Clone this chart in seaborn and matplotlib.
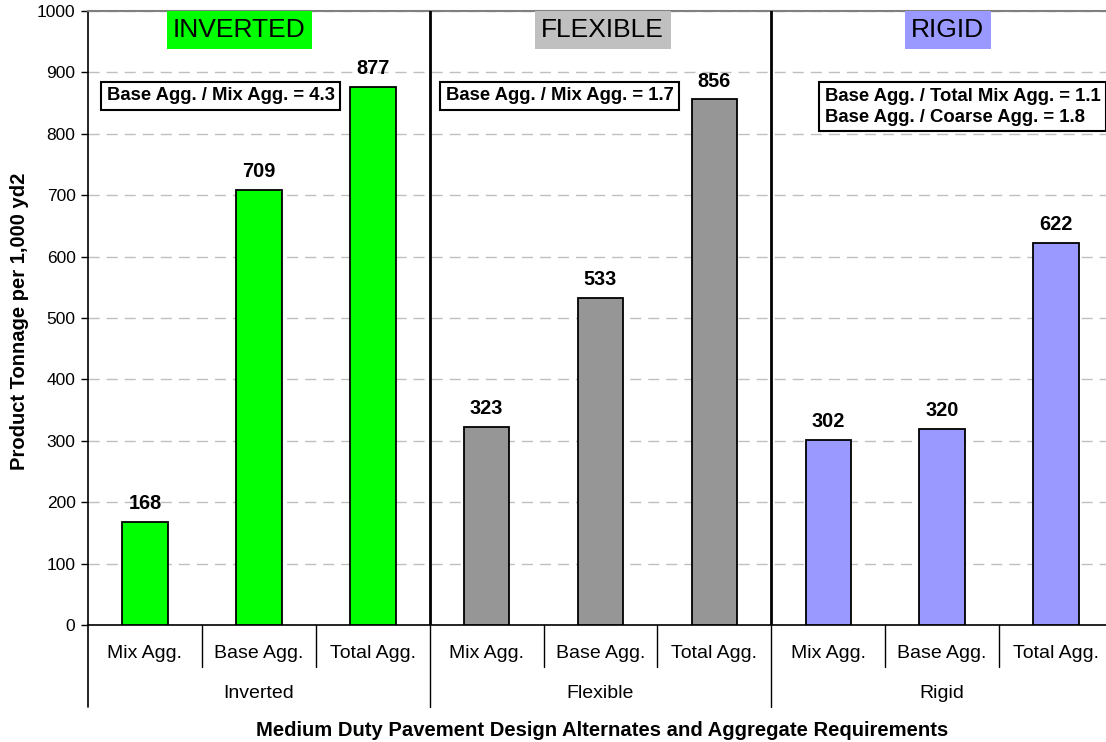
import matplotlib
matplotlib.use("Agg")
import matplotlib.pyplot as plt
import seaborn as sns
import pandas as pd
from matplotlib.transforms import blended_transform_factory

# ---- data ----
groups = ["Inverted", "Flexible", "Rigid"]
headers = ["INVERTED", "FLEXIBLE", "RIGID"]
components = ["Mix Agg.", "Base Agg.", "Total Agg."]
inverted_vals = [168, 709, 877]
flexible_vals = [323, 533, 856]
rigid_vals = [302, 320, 622]
group_colors = ["#00FF00", "#969696", "#9999FF"]
header_colors = ["#00FF00", "#C0C0C0", "#9999FF"]
ratio_notes = [
    "Base Agg. / Mix Agg. = 4.3",
    "Base Agg. / Mix Agg. = 1.7",
    "Base Agg. / Total Mix Agg. = 1.1\nBase Agg. / Coarse Agg. = 1.8",
]
y_ticks = list(range(0, 1001, 100))
y_label = "Product Tonnage per 1,000 yd2"
x_label = "Medium Duty Pavement Design Alternates and Aggregate Requirements"

# ---- build table ----
rows = []
for g, vals in zip(groups, [inverted_vals, flexible_vals, rigid_vals]):
    for c, v in zip(components, vals):
        rows.append({"key": f"{g}|{c}", "group": g, "component": c, "value": v})
df = pd.DataFrame(rows)
keys = list(df["key"])

sns.set_style("white")
plt.rcParams["font.family"] = ["Liberation Sans", "DejaVu Sans"]
plt.rcParams["text.color"] = "black"
plt.rcParams["axes.labelcolor"] = "black"
plt.rcParams["xtick.color"] = "black"
plt.rcParams["ytick.color"] = "black"

W, H = 1106, 742
fig = plt.figure(figsize=(W / 100, H / 100), dpi=100)
ax_left, ax_bottom, ax_w, ax_h = 88, 117, 1025, 614
ax = fig.add_axes([ax_left / W, ax_bottom / H, ax_w / W, ax_h / H])

sns.barplot(data=df, x="key", y="value", hue="group", order=keys,
            hue_order=groups, palette=dict(zip(groups, group_colors)),
            dodge=False, width=0.4, saturation=1, edgecolor="black",
            linewidth=1.3, legend=False, ax=ax, zorder=3)

ax.set_xlim(-0.5, len(keys) - 0.5)
ax.set_ylim(0, 1000)
ax.set_yticks(y_ticks)
ax.set_yticklabels([str(t) for t in y_ticks], fontsize=12.5, color="black")
ax.tick_params(axis="y", length=5, width=1, colors="black", direction="out", pad=4, left=True)
ax.tick_params(axis="x", bottom=False, labelbottom=False)
ax.set_xlabel("")
ax.set_ylabel("")
ax.yaxis.grid(True, color="#C0C0C0", linestyle=(0, (8, 5)), linewidth=1)
ax.set_axisbelow(True)

for s in ["left", "bottom"]:
    ax.spines[s].set_color("black")
    ax.spines[s].set_linewidth(1.2)
for s in ["top", "right"]:
    ax.spines[s].set_color("#808080")
    ax.spines[s].set_linewidth(1.5)

# value labels
for i, v in enumerate(df["value"]):
    ax.text(i, v + 21, str(v), ha="center", va="baseline", fontsize=14.3,
            fontweight="bold", color="black", zorder=5)

# group headers
header_offsets = [-0.17, 0.02, 0.05]
for gi, (h, col) in enumerate(zip(headers, header_colors)):
    ax.text(gi * 3 + 1 + header_offsets[gi], 969, h, ha="center", va="center",
            fontsize=19, zorder=6, color="black",
            bbox=dict(boxstyle="square,pad=0.25", facecolor=col, edgecolor="none"))

# ratio notes
note_x = [-0.335, 2.643, 5.97]
note_y = [862, 862, 844]
for gi, note in enumerate(ratio_notes):
    ax.text(note_x[gi], note_y[gi], note, ha="left", va="center", fontsize=13.3,
            fontweight="bold", linespacing=1.3, zorder=6, color="black",
            bbox=dict(boxstyle="square,pad=0.3", facecolor="white",
                      edgecolor="black", linewidth=1.5))

# group separators inside plot
for b in [2.5, 5.5]:
    ax.axvline(b, color="black", linewidth=2, zorder=4)

# multi-level category axis
trans = blended_transform_factory(ax.transData, ax.transAxes)
for i, c in enumerate(df["component"]):
    ax.text(i, -29 / ax_h, c, ha="center", va="center", fontsize=14,
            transform=trans, clip_on=False, color="black")
for gi, g in enumerate(groups):
    ax.text(gi * 3 + 1, -68 / ax_h, g, ha="center", va="center", fontsize=14,
            transform=trans, clip_on=False, color="black")
for i in range(len(keys) - 1):
    b = i + 0.5
    if (i + 1) % 3 == 0:
        ax.plot([b, b], [0, -82 / ax_h], color="black", linewidth=1,
                transform=trans, clip_on=False)
    else:
        ax.plot([b, b], [0, -42 / ax_h], color="black", linewidth=1,
                transform=trans, clip_on=False)
ax.plot([-0.5, -0.5], [0, -82 / ax_h], color="black", linewidth=1.2,
        transform=trans, clip_on=False)

fig.text(20 / W, 1 - 321 / H, y_label, rotation=90, ha="center", va="center",
         fontsize=14.5, fontweight="bold", color="black")
fig.text(602 / W, 1 - 730 / H, x_label, ha="center", va="center",
         fontsize=14.6, fontweight="bold", color="black")

fig.savefig("out.png", dpi=100)
